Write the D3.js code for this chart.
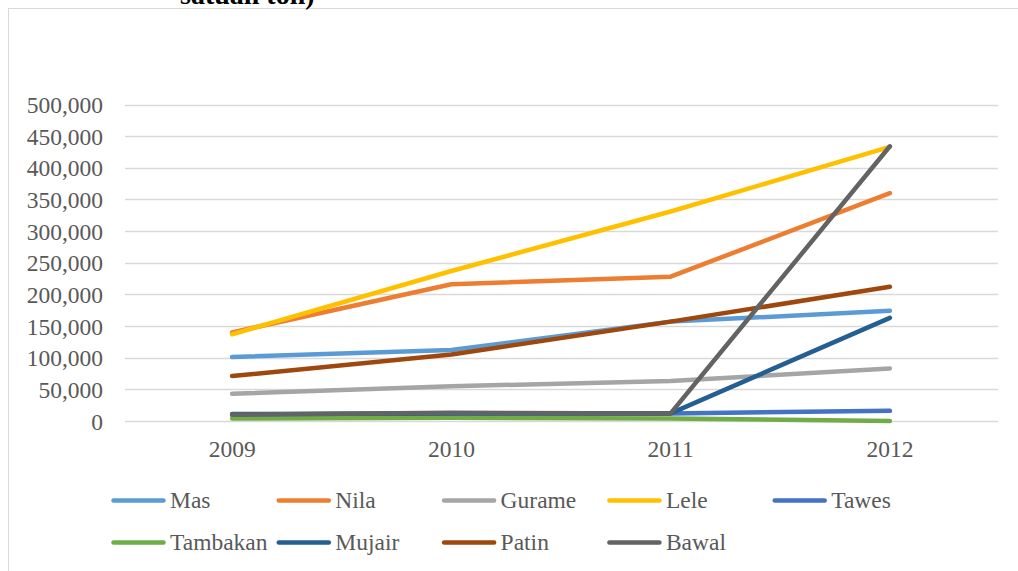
<!DOCTYPE html>
<html><head><meta charset="utf-8">
<script src="https://cdn.jsdelivr.net/npm/d3@7"></script>
<style>
html,body{margin:0;padding:0;background:#fff;}
svg{display:block;}
text{font-family:"Liberation Serif","Times New Roman",serif;fill:#595959;}
</style></head>
<body>
<svg id="c" width="1018" height="571"></svg>
<script>
const years = ["2009","2010","2011","2012"];
const yTicks = [0,50000,100000,150000,200000,250000,300000,350000,400000,450000,500000];
const seriesNames = ["Mas","Nila","Gurame","Lele","Tawes","Tambakan","Mujair","Patin","Bawal"];
const seriesColors = ["#5B9BD5","#ED7D31","#A5A5A5","#FFC000","#4472C4","#70AD47","#255E91","#9E480E","#636363"];
const mas      = [101000,112000,157000,174000];
const nila     = [140000,216000,228000,360000];
const gurame   = [43000,55000,63000,83000];
const lele     = [137000,237000,331000,433000];
const tawes    = [10000,12000,12000,16000];
const tambakan = [4000,5000,4000,0];
const mujair   = [11000,12000,12000,163000];
const patin    = [71000,105000,157000,212000];
const bawal    = [10000,13000,12000,434000];
const seriesValues = [mas,nila,gurame,lele,tawes,tambakan,mujair,patin,bawal];

const FONT = '"Liberation Serif","Times New Roman",serif';
const FS = 23.5;
const svg = d3.select("#c");
// chart border (only top and left visible)
svg.append("rect").attr("x",8.5).attr("y",8.5).attr("width",1100).attr("height",700)
  .attr("fill","#fff").attr("stroke","#d9d9d9").attr("stroke-width",1);

svg.append("text").attr("x",180).attr("y",4).attr("font-size",28).attr("font-weight","bold")
  .style("font-family",FONT).style("fill","#000").text("satuan ton)");

const x = d3.scaleBand().domain(years).range([122.5,999.5]);
const y = d3.scaleLinear().domain([0,500000]).range([421,104.5]);

// gridlines
svg.append("g").selectAll("line").data(yTicks).join("line")
  .attr("x1",125).attr("x2",998)
  .attr("y1",d=>Math.round(y(d))+0.5).attr("y2",d=>Math.round(y(d))+0.5)
  .attr("stroke","#d9d9d9").attr("stroke-width",1.3);

const fmt = d3.format(",");
const yAxis = d3.axisLeft(y).tickValues(yTicks).tickFormat(d=>fmt(d)).tickSize(0).tickPadding(0);
const gy = svg.append("g").attr("transform","translate(103,0)").call(yAxis);
gy.select(".domain").remove();
gy.selectAll("text").attr("font-size",FS).style("font-family",FONT).style("fill","#595959").attr("dy","0.34em");

const xAxis = d3.axisBottom(x).tickSize(0).tickPadding(0);
const gx = svg.append("g").attr("transform","translate(0,457)").call(xAxis);
gx.select(".domain").remove();
gx.selectAll("text").attr("font-size",FS).style("font-family",FONT).style("fill","#595959").attr("y",0).attr("dy","0");

const line = d3.line().x((d,i)=>x(years[i])+x.bandwidth()/2).y(d=>y(d));
svg.append("g").selectAll("path").data(seriesValues).join("path")
  .attr("d",d=>line(d)).attr("fill","none")
  .attr("stroke",(d,i)=>seriesColors[i]).attr("stroke-width",4.5)
  .attr("stroke-linecap","round").attr("stroke-linejoin","round");

// legend
const lg = svg.append("g");
seriesNames.forEach((n,i)=>{
  const col = i<5 ? i : i-5;
  const row = i<5 ? 0 : 1;
  const lx = 111.5 + col*165.3;
  const ly = row===0 ? 500.5 : 542.5;
  lg.append("line").attr("x1",lx+2).attr("x2",lx+52).attr("y1",ly).attr("y2",ly)
    .attr("stroke",seriesColors[i]).attr("stroke-width",4.5).attr("stroke-linecap","round");
  lg.append("text").attr("x",lx+58.5).attr("y",ly+7.5).attr("font-size",FS)
    .style("font-family",FONT).style("fill","#595959").text(n);
});
</script>
</body></html>
